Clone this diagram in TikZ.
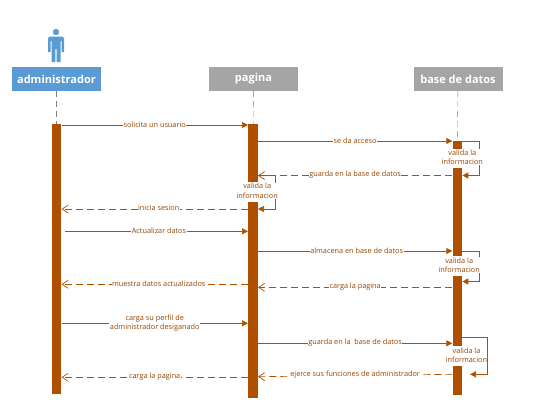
\documentclass[tikz,border=0pt]{standalone}
\usepackage{fontspec}
\setmainfont{Open Sans}
\usetikzlibrary{arrows.meta,calc}
\definecolor{barbrown}{HTML}{AE5000}
\definecolor{actorblue}{HTML}{5B9BD5}
\definecolor{boxgray}{HTML}{A5A5A5}
\tikzset{
head/.style={minimum width=89pt,minimum height=24pt,inner sep=0pt,text=white,font=\fontsize{11}{13}\selectfont\bfseries},
bar/.style={fill=barbrown,minimum width=9.6pt,inner sep=0pt},
life/.style={gray,dash pattern=on 6pt off 4pt,thin},
msg/.style={barbrown,-{Triangle[length=6pt,width=6pt]},line width=0.7pt},
ret/.style={barbrown,dash pattern=on 7pt off 4pt,-{Straight Barb[length=6pt,width=8pt]},line width=0.7pt},
lab/.style={fill=white,text=barbrown!85!black,inner sep=0.5pt,align=center,font=\fontsize{7.3}{9.3}\selectfont}
}
\begin{document}
\begin{tikzpicture}[x=1pt,y=-1pt]
	\useasboundingbox (0,0) rectangle (549,410);

	%actor
	\fill[actorblue] (56,32) circle (3.2);
	\fill[actorblue] (49.5,36.5) -- (62.5,36.5) -- (64,38) -- (64,52) -- (61.5,52) -- (61.5,41) -- (60.5,41) -- (60.5,62) -- (56.6,62) -- (56.6,49) -- (55.4,49) -- (55.4,62) -- (51.5,62) -- (51.5,41) -- (50.5,41) -- (50.5,52) -- (48,52) -- (48,38) -- cycle;

	%heads
	\node[head,fill=actorblue] (adm) at (56.5,79) {administrador};
	\node[head,fill=boxgray] (pag) at (253.5,79) {pagina};
	\node[head,fill=boxgray] (bd) at (458,79) {base de datos};

	%bars
	\node[bar,minimum height=270pt] (adm1) at (56.5,259) {};
	\node[bar,minimum height=58pt] (pag1) at (253,153) {};
	\node[bar,minimum height=196pt] (pag2) at (253,300) {};
	\node[bar,minimum height=9pt] (bd1) at (457.3,145) {};
	\node[bar,minimum height=88pt] (bd2) at (457.3,212) {};
	\node[bar,minimum height=70pt] (bd3) at (457.3,311) {};
	\node[bar,minimum height=29pt] (bd4) at (457.3,380) {};

	%lifelines
	\draw[life] (adm) -- (adm1);
	\draw[life] (pag) -- (pag1);
	\draw[life] (bd) -- (bd1);

	%self messages
	\coordinate (c1) at (479.5,141);
	\coordinate (c2) at (479.5,175.5);
	\coordinate (c3) at (275.5,175.5);
	\coordinate (c4) at (275.5,209);
	\coordinate (c5) at (479.5,251);
	\coordinate (c6) at (479.5,281.5);
	\coordinate (c7) at (487.3,337);
	\coordinate (c8) at (487.3,374.3);
	\coordinate (c9) at (470,374.3);
	\coordinate (s1) at (65,231.3);

	\draw[msg] (bd1.east |- c1) -- (c1) -- (c2) -- (bd1.east |- c2);
	\draw[msg] (pag1.east |- c3) -- (c3) -- (c4) -- (pag1.east |- c4);
	\draw[msg] (bd2.east |- c5) -- (c5) -- (c6) -- (bd2.east |- c6);

	\node[lab] (v1) at (462.3,157.2) {valida la\\informacion};
	\node[lab] (v2) at (257.2,190.8) {valida la\\informacion};
	\node[lab] (v3) at (459.2,265.2) {valida la\\informacion};
	\node[lab] (v4) at (466.5,355) {valida la\\informacion};
	\draw[msg] (bd3.east |- c7) -- (c7) -- (c8) -- (c9);

	%messages
	\draw[msg] (adm1.east |- 0,125) -- (pag1.west |- 0,125) node[lab,pos=0.5,yshift=0.7pt] (m1) {solicita un usuario};
	\draw[msg] (pag1.east |- c1) -- (bd1.west |- c1) node[lab,pos=0.5,yshift=0.7pt] (m2) {se da acceso};
	\draw[ret] (bd2.west |- c2) -- (pag1.east |- c2) node[lab,pos=0.5,yshift=0.7pt] (m3) {guarda en la base de datos};
	\draw[ret] (pag2.west |- c4) -- (adm1.east |- c4) node[lab,pos=0.5,xshift=4pt,yshift=0.7pt] (m4) {inicia sesion};
	\draw[msg] (s1) -- (pag2.west |- s1) node[lab,pos=0.5,xshift=2.5pt,yshift=0.7pt] (m5) {Actualizar datos};
	\draw[msg] (pag2.east |- c5) -- (bd2.west |- c5) node[lab,pos=0.5,xshift=1.5pt,yshift=0.7pt] (m6) {almacena en base de datos};
	\draw[ret] (pag2.west |- 0,284.3) -- (adm1.east |- 0,284.3) node[lab,pos=0.5,xshift=4pt,yshift=0.7pt] (m7) {muestra datos actualizados};
	\draw[ret] (bd3.west |- 0,287.3) -- (pag2.east |- 0,287.3) node[lab,pos=0.5,yshift=0.7pt] (m8) {carga la pagina};
	\draw[msg] (adm1.east |- 0,323.3) -- (pag2.west |- 0,323.3) node[lab,pos=0.5,yshift=0.3pt] (m9) {carga su perfil de\\administrador desiganado};
	\draw[msg] (pag2.east |- 0,343.3) -- (bd3.west |- 0,343.3) node[lab,pos=0.5,yshift=0.7pt] (m10) {guarda en la \ base de datos};
	\draw[ret] (bd4.west |- c8) -- (pag2.east |- 0,376.7) node[lab,pos=0.5,yshift=0.7pt] (m11) {ejerce sus funciones de administrador};
	\draw[ret] (pag2.west |- 0,377.3) -- (adm1.east |- 0,377.3) node[lab,pos=0.5,yshift=0.7pt] (m12) {carga la pagina};
\end{tikzpicture}
\end{document}
